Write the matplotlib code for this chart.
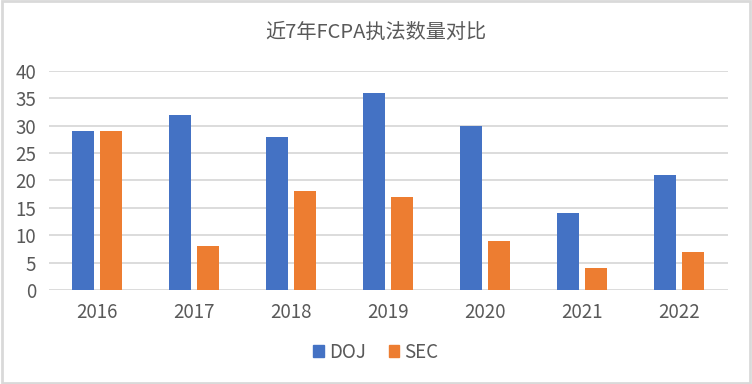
import matplotlib.pyplot as plt
import matplotlib.patches as mpatches
import numpy as np

plt.rcParams['font.family'] = ['Noto Sans CJK SC', 'DejaVu Sans']

years = ['2016', '2017', '2018', '2019', '2020', '2021', '2022']
doj = [29, 32, 28, 36, 30, 14, 21]
sec = [29, 8, 18, 17, 9, 4, 7]

blue = '#4472C4'
orange = '#ED7D31'
text_gray = '#595959'
grid_gray = '#D9D9D9'

fig = plt.figure(figsize=(7.52, 3.84), dpi=100)
ax = fig.add_axes([0.065, 0.245, 0.903, 0.57])

x = np.arange(len(years))
w = 0.227
gap = 0.062
ax.bar(x - (w + gap) / 2, doj, width=w, color=blue, label='DOJ', zorder=3)
ax.bar(x + (w + gap) / 2, sec, width=w, color=orange, label='SEC', zorder=3)

ax.set_xlim(-0.5, len(years) - 0.5)
ax.set_ylim(0, 40)
ax.set_yticks(range(0, 41, 5))
ax.set_xticks(x)
ax.set_xticklabels(years)
ax.yaxis.grid(True, color=grid_gray, linewidth=1.3, zorder=0)
for s in ax.spines.values():
    s.set_visible(False)
ax.tick_params(length=0, labelsize=13.5, labelcolor=text_gray)
ax.tick_params(axis='x', pad=9)
ax.tick_params(axis='y', pad=9)

fig.text(0.5, 0.915, '近7年FCPA执法数量对比', ha='center', va='center',
         fontsize=14.5, color=text_gray)

handles = [mpatches.Patch(color=blue, label='DOJ'),
           mpatches.Patch(color=orange, label='SEC')]
leg = fig.legend(handles=handles, loc='center', bbox_to_anchor=(0.5, 0.083),
                 ncol=2, frameon=False, fontsize=13.5, handlelength=0.55,
                 handleheight=0.55, handletextpad=0.3, columnspacing=1.2)
for t in leg.get_texts():
    t.set_color(text_gray)

border = mpatches.Rectangle((0.002, 0.003), 0.996, 0.994, transform=fig.transFigure,
                            fill=False, edgecolor=grid_gray, linewidth=2)
fig.patches.append(border)

fig.savefig('out.png', dpi=100)
